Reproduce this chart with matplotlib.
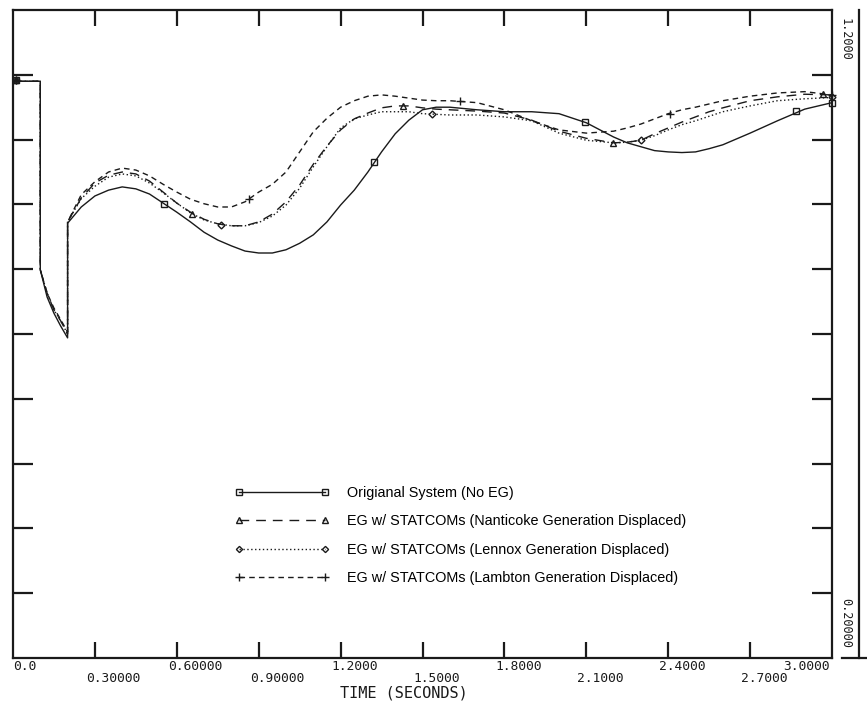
import numpy as np
import matplotlib
matplotlib.use("Agg")
import matplotlib.pyplot as plt
import matplotlib.transforms as mtransforms
from matplotlib.lines import Line2D

# ---------------- data ----------------
time = [0.0, 0.1, 0.1, 0.125, 0.15, 0.175, 0.2, 0.2,
        0.25, 0.3, 0.35, 0.4, 0.45, 0.5, 0.55, 0.6,
        0.65, 0.7, 0.75, 0.8, 0.85, 0.9, 0.95, 1.0,
        1.05, 1.1, 1.15, 1.2, 1.25, 1.3, 1.35, 1.4,
        1.45, 1.5, 1.55, 1.6, 1.7, 1.8, 1.9, 2.0,
        2.1, 2.2, 2.25, 2.3, 2.35, 2.4, 2.45, 2.5,
        2.55, 2.6, 2.7, 2.8, 2.9, 3.0]

original = [1.090, 1.090, 0.799, 0.757, 0.732, 0.712, 0.694, 0.871,
            0.896, 0.913, 0.922, 0.927, 0.924, 0.916, 0.902, 0.888,
            0.873, 0.857, 0.845, 0.836, 0.828, 0.825, 0.825, 0.830,
            0.840, 0.853, 0.873, 0.899, 0.922, 0.950, 0.981, 1.009,
            1.030, 1.046, 1.050, 1.050, 1.046, 1.043, 1.043, 1.040,
            1.026, 1.004, 0.995, 0.989, 0.983, 0.981, 0.980, 0.981,
            0.986, 0.992, 1.010, 1.029, 1.047, 1.057]

nanticoke = [1.090, 1.090, 0.799, 0.763, 0.737, 0.720, 0.700, 0.873,
             0.910, 0.933, 0.945, 0.950, 0.947, 0.936, 0.919, 0.902,
             0.888, 0.877, 0.870, 0.867, 0.867, 0.873, 0.885, 0.904,
             0.930, 0.962, 0.990, 1.015, 1.032, 1.041, 1.049, 1.052,
             1.052, 1.049, 1.047, 1.046, 1.044, 1.041, 1.030, 1.013,
             1.002, 0.995, 0.996, 0.999, 1.009, 1.018, 1.027, 1.035,
             1.043, 1.049, 1.060, 1.066, 1.070, 1.069]

lennox = [1.090, 1.090, 0.799, 0.763, 0.737, 0.720, 0.700, 0.873,
          0.909, 0.928, 0.942, 0.947, 0.944, 0.933, 0.918, 0.902,
          0.887, 0.876, 0.870, 0.867, 0.867, 0.872, 0.882, 0.899,
          0.925, 0.958, 0.989, 1.018, 1.032, 1.038, 1.043, 1.043,
          1.043, 1.040, 1.039, 1.038, 1.038, 1.035, 1.029, 1.010,
          0.999, 0.995, 0.996, 0.999, 1.006, 1.015, 1.023, 1.029,
          1.036, 1.043, 1.052, 1.060, 1.063, 1.065]

lambton = [1.090, 1.090, 0.799, 0.763, 0.740, 0.722, 0.703, 0.873,
           0.915, 0.935, 0.950, 0.956, 0.953, 0.944, 0.931, 0.919,
           0.908, 0.901, 0.896, 0.896, 0.904, 0.919, 0.931, 0.950,
           0.981, 1.012, 1.033, 1.050, 1.060, 1.067, 1.069, 1.067,
           1.064, 1.061, 1.060, 1.060, 1.057, 1.046, 1.029, 1.015,
           1.010, 1.013, 1.018, 1.024, 1.032, 1.040, 1.046, 1.050,
           1.055, 1.060, 1.067, 1.072, 1.074, 1.069]

# symbol positions on each curve
orig_mk_t = [0.01, 0.553, 1.322, 2.095, 2.868, 3.0]
orig_mk_v = [1.092, 0.901, 0.965, 1.027, 1.044, 1.057]
nant_mk_t = [0.01, 0.656, 1.429, 2.198, 2.967]
nant_mk_v = [1.092, 0.885, 1.052, 0.995, 1.070]
lenn_mk_t = [0.01, 0.762, 1.534, 2.300, 3.0]
lenn_mk_v = [1.092, 0.868, 1.040, 0.999, 1.065]
lamb_mk_t = [0.01, 0.864, 1.637, 2.407, 3.0]
lamb_mk_v = [1.092, 0.908, 1.060, 1.040, 1.069]

labels = ["Origianal System (No EG)",
          "EG w/ STATCOMs (Nanticoke Generation Displaced)",
          "EG w/ STATCOMs (Lennox Generation Displaced)",
          "EG w/ STATCOMs (Lambton Generation Displaced)"]

xtick_vals = [0.0, 0.3, 0.6, 0.9, 1.2, 1.5, 1.8, 2.1, 2.4, 2.7, 3.0]
xtick_text = ["0.0", "0.30000", "0.60000", "0.90000", "1.2000", "1.5000",
              "1.8000", "2.1000", "2.4000", "2.7000", "3.0000"]
ytick_vals = [0.3, 0.4, 0.5, 0.6, 0.7, 0.8, 0.9, 1.0, 1.1]
y_top_label = "1.2000"
y_bot_label = "0.20000"
x_label = "TIME (SECONDS)"

# ---------------- figure ----------------
W, H, DPI = 867, 704, 100
fig = plt.figure(figsize=(W / DPI, H / DPI), dpi=DPI)
L, R, T, B = 13, 832, 10, 658
ax = fig.add_axes([L / W, 1 - B / H, (R - L) / W, (B - T) / H])
ax.set_xlim(0, 3.0)
ax.set_ylim(0.2, 1.2)

ink = "#1a1a1a"
lw = 1.0

styles = [
    dict(ls="-", marker="s", ms=5),
    dict(ls=(0, (7, 5)), marker="^", ms=5),
    dict(ls=(0, (1, 1.8)), marker="D", ms=3.5),
    dict(ls=(0, (4, 3)), marker="+", ms=6),
]
series = [original, nanticoke, lennox, lambton]
mk_t = [orig_mk_t, nant_mk_t, lenn_mk_t, lamb_mk_t]
mk_v = [orig_mk_v, nant_mk_v, lenn_mk_v, lamb_mk_v]

handles = []
for s, st, mt, mv in zip(series, styles, mk_t, mk_v):
    ax.plot(time, s, color=ink, lw=lw, linestyle=st["ls"], clip_on=False)
    ax.plot(mt, mv, linestyle="none", marker=st["marker"], ms=st["ms"],
            mfc="none", mec=ink, mew=1.0, clip_on=False)
    handles.append(Line2D([], [], color=ink, lw=lw, linestyle=st["ls"],
                          marker=st["marker"], ms=st["ms"] * 0.9, mfc="none",
                          mec=ink, mew=1.0))

leg = ax.legend(handles, labels, loc="upper left",
                bbox_to_anchor=((235 - L) / (R - L), (B - 486) / (B - T)),
                frameon=False, numpoints=2, handlelength=6.5,
                handletextpad=1.25, labelspacing=1.0, borderpad=0,
                borderaxespad=0,
                prop=dict(family="Liberation Sans", size=10.4))

# ---------------- axes styling ----------------
for sp in ax.spines.values():
    sp.set_linewidth(1.6)
    sp.set_color(ink)

ax.set_xticks(xtick_vals[1:-1])
ax.set_yticks(ytick_vals)
ax.tick_params(axis="x", which="both", direction="in", top=True, bottom=True,
               length=11.5, width=1.6, color=ink, labelbottom=False)
ax.tick_params(axis="y", which="both", direction="in", left=True, right=True,
               length=14.4, width=1.6, color=ink, labelleft=False)

mono = "DejaVu Sans Mono"
xtr = ax.get_xaxis_transform()
for i, (v, txt) in enumerate(zip(xtick_vals, xtick_text)):
    yrow = -0.0135 if i % 2 == 0 else -0.032
    if i == 0:
        tr, ha = xtr, "left"
    elif i == len(xtick_vals) - 1:
        tr = mtransforms.offset_copy(xtr, fig=fig, x=-2, y=0, units="dots")
        ha = "right"
    else:
        tr = mtransforms.offset_copy(xtr, fig=fig, x=-9, y=0, units="dots")
        ha = "left"
    ax.text(v, yrow, txt, transform=tr, ha=ha, va="center",
            family=mono, fontsize=9.3, color=ink)

ax.set_xlabel(x_label, family=mono, fontsize=11, color=ink)
ax.xaxis.set_label_coords((404 - L) / (R - L), (B - 693) / (B - T))
ax.xaxis.label.set_va("center")

# right-hand value bracket
ax.text((845 - L) / (R - L), (B - 39) / (B - T), y_top_label, transform=ax.transAxes,
        rotation=-90, ha="center", va="center", family=mono, fontsize=8.6, color=ink)
ax.text((846 - L) / (R - L), (B - 623) / (B - T), y_bot_label, transform=ax.transAxes,
        rotation=-90, ha="center", va="center", family=mono, fontsize=8.6, color=ink)
ax.add_line(Line2D([(859 - L) / (R - L)] * 2, [0, 1], transform=ax.transAxes,
                   color=ink, lw=1.6, clip_on=False))
ax.add_line(Line2D([(842 - L) / (R - L), (867 - L) / (R - L)], [0, 0],
                   transform=ax.transAxes, color=ink, lw=1.6, clip_on=False))

fig.savefig("out.png", dpi=DPI)
